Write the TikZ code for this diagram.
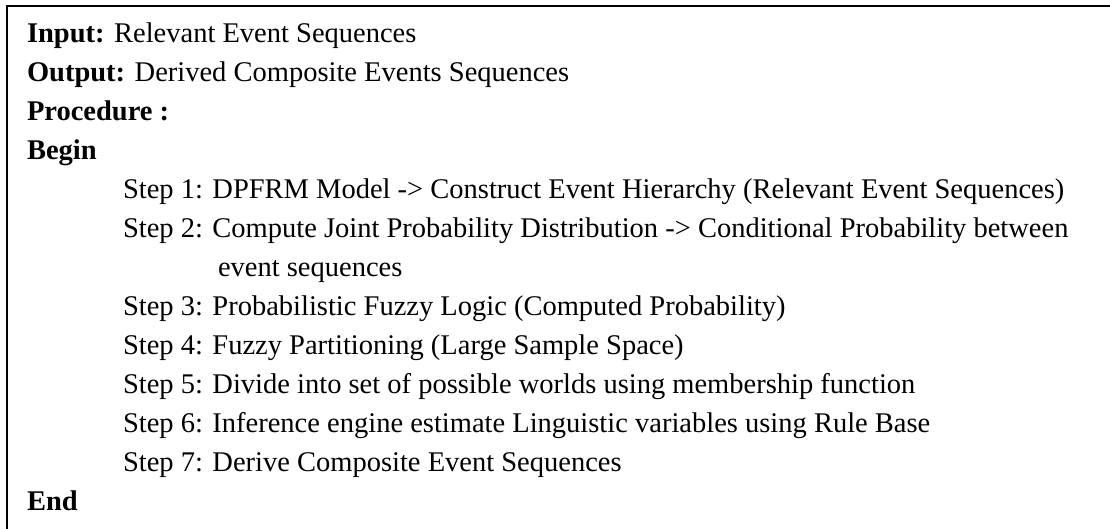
\documentclass[tikz,border=0pt]{standalone}
\usepackage{fontspec}
\setmainfont{Liberation Serif}
\begin{document}
\begin{tikzpicture}[x=0.5pt,y=-0.5pt,
  txt/.style={anchor=base west,inner sep=0pt,outer sep=0pt,font=\fontsize{14.25pt}{17pt}\selectfont},
  head/.style={txt,font=\fontsize{14.25pt}{17pt}\selectfont\bfseries},
  frame/.style={line width=1pt,line cap=butt}]
\useasboundingbox (0,0) rectangle (1110,529);
% open frame: left and top edges run off the page
\draw[frame] (6.5,529) -- (6.5,6.5) -- (1110,6.5);
% header lines
\node[txt] (in) at (27,43) {\textbf{Input:} Relevant Event Sequences};
\node[txt] (out) at (27,82) {\textbf{Output:} Derived Composite Events Sequences};
\node[head] (proc) at (27,121) {Procedure :};
\node[head] (begin) at (27,160) {Begin};
% procedure steps
\node[txt] (s1) at (123,199) {Step 1: DPFRM Model -> Construct Event Hierarchy (Relevant Event Sequences)};
\node[txt] (s2) at (123,238) {Step 2: Compute Joint Probability Distribution -> Conditional Probability between};
\node[txt] (s2b) at (218,277) {event sequences};
\node[txt] (s3) at (123,316) {Step 3: Probabilistic Fuzzy Logic (Computed Probability)};
\node[txt] (s4) at (123,355) {Step 4: Fuzzy Partitioning (Large Sample Space)};
\node[txt] (s5) at (123,394) {Step 5: Divide into set of possible worlds using membership function};
\node[txt] (s6) at (123,433) {Step 6: Inference engine estimate Linguistic variables using Rule Base};
\node[txt] (s7) at (123,472) {Step 7: Derive Composite Event Sequences};
\node[head] (end) at (27,511) {End};
\end{tikzpicture}
\end{document}
